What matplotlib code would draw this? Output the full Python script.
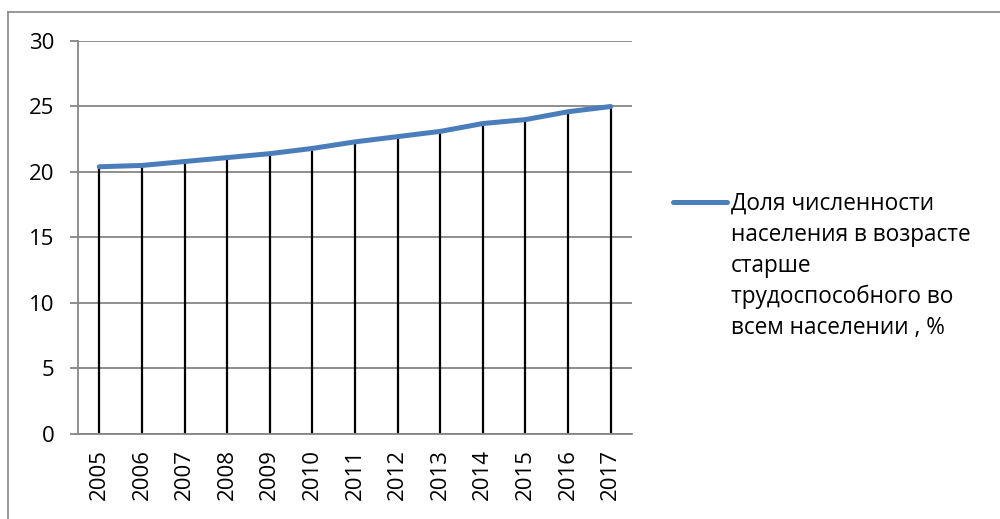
from matplotlib import pyplot as plt
from matplotlib.lines import Line2D

years = ["2005", "2006", "2007", "2008", "2009", "2010", "2011",
         "2012", "2013", "2014", "2015", "2016", "2017"]
share = [20.4, 20.5, 20.8, 21.1, 21.4, 21.8, 22.3,
         22.7, 23.1, 23.7, 24.0, 24.6, 25.0]
label = "Доля численности\nнаселения в возрасте\nстарше\nтрудоспособного во\nвсем населении , %"

plt.rcParams['font.family'] = ['Open Sans', 'DejaVu Sans']

fig = plt.figure(figsize=(10, 5.19), dpi=100)
ax = fig.add_axes([0.078, 0.1638, 0.554, 0.7572])

x = list(range(len(years)))
ax.vlines(x, 0, share, colors="black", linewidth=1.6, zorder=2)
ax.plot(x, share, color="#4A7EBB", linewidth=3.6, solid_capstyle="round", zorder=3)

ax.set_xlim(-0.5, len(years) - 0.5)
ax.set_ylim(0, 30)
ax.set_yticks(range(0, 31, 5))
ax.set_xticks(x)
ax.set_xticklabels(years, rotation=90)
ax.yaxis.grid(True, color="#868686", linewidth=1.3, zorder=0)
ax.set_axisbelow(True)

for side in ["top", "right"]:
    ax.spines[side].set_visible(False)
for side in ["left", "bottom"]:
    ax.spines[side].set_color("#868686")
    ax.spines[side].set_linewidth(1.3)

ax.tick_params(axis="y", labelsize=16, length=6, width=1.3, color="#868686", pad=11)
ax.tick_params(axis="x", labelsize=16, length=0, pad=11)

# legend drawn by hand on the right
fig.add_artist(Line2D([0.673, 0.727], [1 - 202 / 519, 1 - 202 / 519],
                      color="#4A7EBB", linewidth=3.6, solid_capstyle="round"))
fig.text(0.731, 1 - 192 / 519, label, fontsize=16.3, va="top", ha="left", linespacing=1.38)

# outer frame
fig.add_artist(Line2D([0.008, 1.0], [1 - 12 / 519, 1 - 12 / 519], color="#868686", linewidth=1.2))
fig.add_artist(Line2D([0.008, 0.008], [0, 1 - 12 / 519], color="#868686", linewidth=1.2))

fig.savefig("out.png", dpi=100)
